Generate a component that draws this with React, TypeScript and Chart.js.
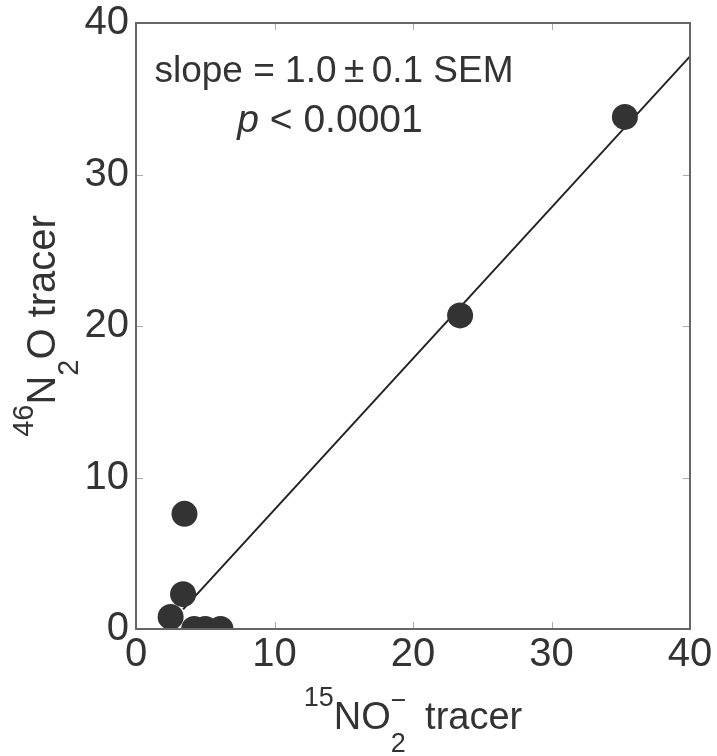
import React, { useEffect, useRef } from "react";
import { Chart, registerables } from "chart.js";

Chart.register(...registerables);

// ---- data ----
const xValues = [2.5, 3.4, 3.5, 4.2, 5.0, 6.1, 23.4, 35.3];
const yValues = [0.8, 2.3, 7.6, 0.0, 0.0, 0.0, 20.7, 33.8];
const fitX = [3.4, 40];
const fitY = [1.3, 37.8];
const xTicks = [0, 10, 20, 30, 40];
const yTicks = [0, 10, 20, 30, 40];
const slopeText = "slope = 1.0\u2009\u00b1\u20090.1 SEM";
const pText = "p";
const pRest = " < 0.0001";

const FONT = '"Liberation Sans", Arial, Helvetica, sans-serif';
const TEXT = "#333333";

type Run = { t: string; size: number; dy?: number; italic?: boolean; over?: { t: string; dy: number }; gap?: number };

function runFont(r: Run) {
  return `${r.italic ? "italic " : ""}${r.size}px ${FONT}`;
}

function drawRuns(ctx: CanvasRenderingContext2D, runs: Run[], cx: number, cy: number, rotate: boolean) {
  ctx.save();
  ctx.translate(cx, cy);
  if (rotate) ctx.rotate(-Math.PI / 2);
  ctx.fillStyle = TEXT;
  ctx.textBaseline = "alphabetic";
  ctx.textAlign = "left";
  const widths = runs.map((r) => {
    ctx.font = runFont(r);
    let w = ctx.measureText(r.t).width;
    if (r.over) w = Math.max(w, ctx.measureText(r.over.t).width);
    return w + (r.gap || 0);
  });
  const total = widths.reduce((a, b) => a + b, 0);
  let x = -total / 2;
  runs.forEach((r, i) => {
    ctx.font = runFont(r);
    ctx.fillText(r.t, x, r.dy || 0);
    if (r.over) ctx.fillText(r.over.t, x, r.over.dy);
    x += widths[i];
  });
  ctx.restore();
}

const decorPlugin = {
  id: "decor",
  afterDatasetsDraw(chart: any) {
    const ctx: CanvasRenderingContext2D = chart.ctx;
    const { left, right, top, bottom } = chart.chartArea;
    const xs = chart.scales.x;
    const ys = chart.scales.y;
    ctx.save();
    // inward tick marks on all four sides
    ctx.strokeStyle = "#aaaaaa";
    ctx.lineWidth = 1;
    const tl = 7;
    xTicks.forEach((v) => {
      const px = Math.round(xs.getPixelForValue(v)) + 0.5;
      ctx.beginPath();
      ctx.moveTo(px, bottom);
      ctx.lineTo(px, bottom - tl);
      ctx.moveTo(px, top);
      ctx.lineTo(px, top + tl);
      ctx.stroke();
    });
    yTicks.forEach((v) => {
      const py = Math.round(ys.getPixelForValue(v)) + 0.5;
      ctx.beginPath();
      ctx.moveTo(left, py);
      ctx.lineTo(left + tl, py);
      ctx.moveTo(right, py);
      ctx.lineTo(right - tl, py);
      ctx.stroke();
    });
    // frame
    ctx.strokeStyle = "#666666";
    ctx.lineWidth = 2;
    ctx.strokeRect(left, top, right - left, bottom - top);
    ctx.restore();

    // annotation
    ctx.save();
    ctx.fillStyle = TEXT;
    ctx.textBaseline = "alphabetic";
    ctx.textAlign = "center";
    ctx.font = `37px ${FONT}`;
    ctx.fillText(slopeText, 334, 82);
    ctx.restore();
    drawRuns(ctx, [
      { t: pText, size: 39, italic: true },
      { t: pRest, size: 39 },
    ], 330, 132, false);

    // x axis title
    drawRuns(ctx, [
      { t: "15", size: 27, dy: -23 },
      { t: "NO", size: 38 },
      { t: "2", size: 27, dy: 23, over: { t: "\u2212", dy: -20 }, gap: 8 },
      { t: " tracer", size: 38 },
    ], (left + right) / 2, 729, false);

    // y axis title
    drawRuns(ctx, [
      { t: "46", size: 29, dy: -22 },
      { t: "N", size: 40 },
      { t: "2", size: 29, dy: 23 },
      { t: "O tracer", size: 40 },
    ], 55, (top + bottom) / 2, true);
  },
};

export default function App() {
  const ref = useRef<HTMLCanvasElement | null>(null);
  useEffect(() => {
    if (!ref.current) return;
    const points = xValues.map((x, i) => ({ x, y: yValues[i] }));
    const fit = fitX.map((x, i) => ({ x, y: fitY[i] }));
    const chart = new Chart(ref.current, {
      type: "scatter",
      data: {
        datasets: [
          {
            data: points,
            pointRadius: 13,
            pointHoverRadius: 13,
            backgroundColor: "#333333",
            borderWidth: 0,
            order: 0,
          } as any,
          {
            data: fit,
            showLine: true,
            pointRadius: 0,
            borderColor: "#222222",
            borderWidth: 2,
            order: 1,
          } as any,
        ],
      },
      options: {
        animation: false,
        responsive: false,
        layout: { padding: { top: 23, right: 27, left: 0, bottom: 0 } },
        plugins: { legend: { display: false }, tooltip: { enabled: false } },
        scales: {
          x: {
            type: "linear",
            min: 0,
            max: 40,
            afterBuildTicks: (s: any) => {
              s.ticks = xTicks.map((v) => ({ value: v }));
            },
            afterFit: (s: any) => {
              s.height = 127;
            },
            grid: { display: false, drawTicks: false },
            border: { display: false },
            ticks: { font: { family: FONT, size: 40, lineHeight: 1.2 }, color: TEXT, padding: 2, maxRotation: 0, autoSkip: false },
          },
          y: {
            type: "linear",
            min: 0,
            max: 40,
            afterBuildTicks: (s: any) => {
              s.ticks = yTicks.map((v) => ({ value: v }));
            },
            afterFit: (s: any) => {
              s.width = 136;
            },
            grid: { display: false, drawTicks: false },
            border: { display: false },
            ticks: { font: { family: FONT, size: 40, lineHeight: 0.75 }, color: TEXT, padding: 7, autoSkip: false },
          },
        },
      } as any,
      plugins: [decorPlugin],
    });
    return () => chart.destroy();
  }, []);
  return (
    <div style={{ position: "fixed", left: 0, top: 0, width: 717, height: 756, background: "#fff" }}>
      <canvas ref={ref} width={717} height={756} style={{ display: "block" }} />
    </div>
  );
}
